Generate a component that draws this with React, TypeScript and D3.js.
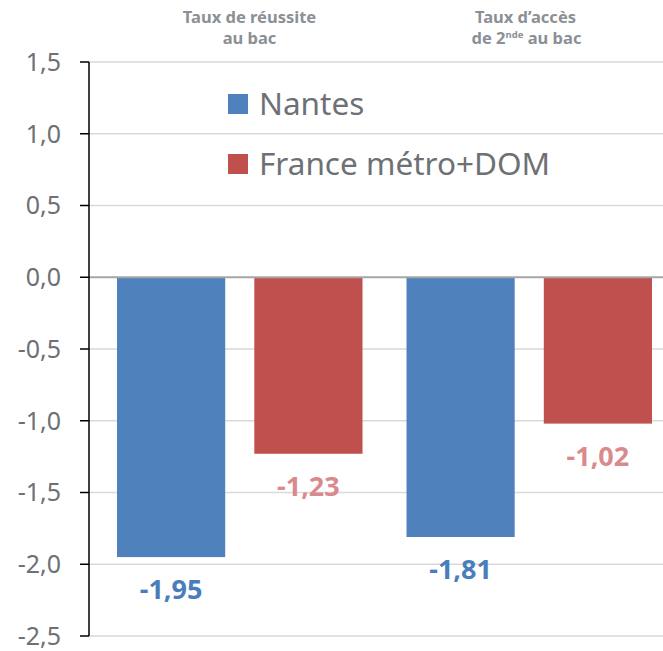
import React from "react";
import * as d3 from "d3";

const categories = ["Taux de réussite au bac", "Taux d’accès de 2nde au bac"];
const seriesNames = ["Nantes", "France métro+DOM"];
const nantesValues = [-1.95, -1.81];
const franceValues = [-1.23, -1.02];
const yTicks = [1.5, 1.0, 0.5, 0.0, -0.5, -1.0, -1.5, -2.0, -2.5];

const W = 663;
const H = 651;
const barColors = ["#4f81bd", "#c0504d"];
const labelColors = ["#4a7ebb", "#d98a8c"];
const textGray = "#6d7175";
const headerGray = "#8b9095";
const font = "'Noto Sans', 'Open Sans', sans-serif";

export default function App() {
  const axisX = 89;
  const gridRight = 663;
  const y = d3.scaleLinear().domain([-2.5, 1.5]).range([636, 62]);
  const x0 = d3.scaleBand<string>().domain(categories).range([95, 674]);
  const x1 = d3
    .scaleBand<string>()
    .domain(seriesNames)
    .range([22, x0.bandwidth() - 22])
    .paddingInner(0.212);
  const series = [nantesValues, franceValues];
  const fmt = (v: number) => d3.format(".1f")(v).replace(".", ",").replace("−", "-");
  const fmt2 = (v: number) => d3.format(".2f")(v).replace(".", ",").replace("−", "-");

  return (
    <svg width={W} height={H} style={{ position: "absolute", left: 0, top: 0, background: "#fff" }}>
      <rect x={0} y={0} width={W} height={H} fill="#fff" />
      {/* gridlines */}
      {yTicks.filter((t) => t !== 0).map((t) => (
        <line key={t} x1={axisX} x2={gridRight} y1={y(t)} y2={y(t)} stroke="#d9d9d9" strokeWidth={1.5} />
      ))}
      {/* bars */}
      {categories.map((c, ci) =>
        seriesNames.map((s, si) => {
          const v = series[si][ci];
          const bx = (x0(c) as number) + (x1(s) as number);
          return (
            <rect
              key={c + s}
              x={bx}
              y={y(0)}
              width={x1.bandwidth()}
              height={y(v) - y(0)}
              fill={barColors[si]}
            />
          );
        })
      )}
      {/* zero line */}
      <line x1={axisX} x2={gridRight} y1={y(0)} y2={y(0)} stroke="#a6a6a6" strokeWidth={2} />
      {/* axis */}
      <line x1={axisX} x2={axisX} y1={y(1.5)} y2={y(-2.5)} stroke="#000" strokeWidth={1.5} />
      {yTicks.map((t) => (
        <g key={"t" + t}>
          <line x1={axisX - 9} x2={axisX} y1={y(t)} y2={y(t)} stroke="#000" strokeWidth={1.5} />
          <text
            x={61}
            y={y(t)}
            dy="0.35em"
            textAnchor="end"
            fontFamily={font}
            fontSize={25}
            fill={textGray}
          >
            {fmt(t)}
          </text>
        </g>
      ))}
      {/* data labels */}
      {categories.map((c, ci) =>
        seriesNames.map((s, si) => {
          const v = series[si][ci];
          const cx = (x0(c) as number) + (x1(s) as number) + x1.bandwidth() / 2;
          return (
            <text
              key={"l" + c + s}
              x={cx}
              y={y(v) + 42}
              textAnchor="middle"
              fontFamily={font}
              fontWeight="bold"
              fontSize={27}
              fill={labelColors[si]}
            >
              {fmt2(v)}
            </text>
          );
        })
      )}
      {/* headers */}
      <g fontFamily={font} fontWeight="bold" fontSize={16.5} fill={headerGray} textAnchor="middle">
        <text x={249.5} y={22.5}>Taux de réussite</text>
        <text x={249.5} y={43.5}>au bac</text>
        <text x={525.5} y={22.5}>Taux d’accès</text>
        <text x={526.5} y={43.5}>
          de 2<tspan fontSize={9.5} dy={-6}>nde</tspan>
          <tspan dy={6}> au bac</tspan>
        </text>
      </g>
      {/* legend */}
      {seriesNames.map((s, si) => (
        <g key={"lg" + s}>
          <rect x={228} y={94 + si * 60} width={20} height={20} fill={barColors[si]} />
          <text x={259} y={115 + si * 60} fontFamily={font} fontSize={31.5} fill={textGray}>
            {s}
          </text>
        </g>
      ))}
    </svg>
  );
}
